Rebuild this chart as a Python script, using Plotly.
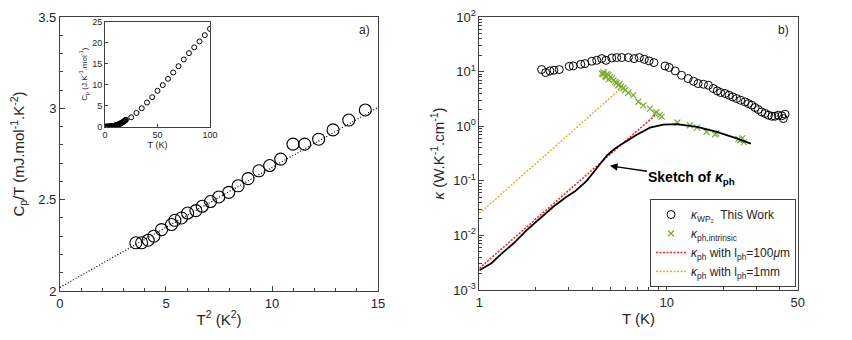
import plotly.graph_objects as go

''' datos panel a) '''
T2 = [3.58, 3.85, 4.16, 4.43, 4.79, 5.26, 5.42, 5.73, 6.02, 6.41, 6.71, 7.10, 7.49, 7.96,
      8.40, 8.87, 9.38, 9.89, 10.41, 10.99, 11.54, 12.20, 12.88, 13.62, 14.40]
CpT = [2.264, 2.264, 2.278, 2.300, 2.336, 2.364, 2.387, 2.400, 2.427, 2.440, 2.464, 2.490,
       2.515, 2.540, 2.576, 2.615, 2.658, 2.687, 2.722, 2.804, 2.804, 2.831, 2.882, 2.936, 2.991]
fit_x = [0, 15]
fit_y = [2.02, 3.005]

# inset Cp vs T
T_low = [0.5, 1, 1.5, 2, 2.5, 3, 3.5, 4, 4.5, 5, 5.5, 6, 6.5, 7, 7.5, 8, 8.5, 9, 9.5, 10,
         10.5, 11, 11.5, 12, 12.5, 13, 13.5, 14, 14.5, 15, 15.5, 16, 16.5, 17, 17.5, 18,
         18.5, 19, 19.5, 20]
Cp_low = [0.00, 0.00, 0.01, 0.01, 0.02, 0.02, 0.03, 0.04, 0.05, 0.06, 0.07, 0.09, 0.10, 0.12,
          0.14, 0.16, 0.19, 0.22, 0.25, 0.28, 0.32, 0.36, 0.40, 0.45, 0.50, 0.55, 0.60, 0.66,
          0.72, 0.79, 0.86, 0.93, 1.01, 1.09, 1.18, 1.27, 1.36, 1.46, 1.56, 1.66]
T_high = [25, 30, 35, 40, 45, 50, 55, 60, 65, 70, 75, 80, 85, 90, 95, 100]
Cp_high = [2.24, 3.27, 4.39, 5.75, 7.03, 8.55, 9.9, 11.4, 12.9, 14.4, 16.0, 17.5, 18.9,
           20.3, 21.8, 23.3]

''' datos panel b) '''
T_wp2 = [2.15, 2.26, 2.38, 2.50, 2.67, 3.02, 3.17, 3.48, 3.66, 3.98, 4.23, 4.50, 4.74, 5.09,
         5.41, 5.75, 6.24, 6.69, 7.14, 7.59, 8.05, 8.55, 9.80, 10.3, 11.1, 12.0, 13.0, 13.9,
         14.7, 15.7, 16.7, 17.7, 18.6, 19.4, 20.5, 21.5, 22.5, 23.6, 24.8, 26.2, 27.3, 28.4,
         29.6, 30.8, 32.1, 33.5, 34.9, 36.4, 37.8, 39.4, 41.1, 41.9, 42.8]
k_wp2 = [10.9, 9.6, 10.3, 10.6, 10.9, 12.5, 12.7, 13.6, 14.0, 15.5, 16.1, 17.3, 16.1, 17.8,
         18.1, 18.1, 18.1, 17.3, 18.1, 16.8, 15.7, 14.6, 12.7, 11.9, 10.3, 8.57, 7.46, 6.66,
         6.05, 5.87, 5.62, 4.90, 4.43, 4.14, 3.97, 3.70, 3.44, 3.21, 2.99, 2.79, 2.60, 2.43,
         2.20, 2.02, 1.83, 1.71, 1.59, 1.52, 1.52, 1.59, 1.55, 1.38, 1.66]

T_int = [4.50, 4.59, 4.6, 4.7, 4.74, 4.8, 4.88, 4.9, 5.0, 5.09, 5.2, 5.30, 5.4, 5.52, 5.6,
         5.7, 5.87, 6.0, 6.24, 6.63, 7.05, 7.50, 8.14, 8.66, 8.8, 9.2, 9.40, 11.4, 13.3, 14.5,
         16.3, 18.1, 18.4, 24.1, 24.6, 25.3, 25.8]
k_int = [9.2, 8.95, 9.8, 8.3, 7.9, 9.0, 8.6, 7.2, 8.0, 7.5, 6.9, 6.5, 6.2, 5.6, 5.9,
         5.3, 5.0, 4.6, 4.1, 3.7, 2.8, 2.4, 2.1, 1.7, 1.8, 1.6, 1.5, 1.17, 1.04, 0.94,
         0.79, 0.71, 0.74, 0.58, 0.55, 0.60, 0.51]

lph100_T = [1, 8.77]
lph100_k = [0.0025, 1.64]
lph1mm_T = [1, 5.87]
lph1mm_k = [0.0253, 5.4]

T_sk = [1.0, 1.16, 1.32, 1.52, 1.79, 2.11, 2.48, 2.87, 3.24, 3.74, 4.23, 4.79, 5.2, 5.63,
        6.92, 8.14, 9.59, 11.3, 14.5, 18.5, 23.6, 26.2, 28.1]
k_sk = [0.0023, 0.0031, 0.0047, 0.0071, 0.0125, 0.0205, 0.0335, 0.049, 0.064, 0.10, 0.17,
        0.29, 0.37, 0.45, 0.70, 0.94, 1.07, 1.09, 0.97, 0.79, 0.60, 0.52, 0.48]

''' figura '''
fnt = 'Liberation Sans, Arial, sans-serif'
eje = '#404040'

fig = go.Figure()

# panel a)
fig.add_trace(go.Scatter(x=fit_x, y=fit_y, mode='lines', xaxis='x', yaxis='y',
                         line=dict(color='black', width=1.2, dash='1px,2px'), showlegend=False))
fig.add_trace(go.Scatter(x=T2, y=CpT, mode='markers', xaxis='x', yaxis='y',
                         marker=dict(symbol='circle-open', size=12, color='black',
                                     line=dict(width=1.1)), showlegend=False))
# inset
fig.add_trace(go.Scatter(x=T_low + T_high, y=Cp_low + Cp_high, mode='markers',
                         xaxis='x3', yaxis='y3',
                         marker=dict(symbol='circle-open', size=5, color='black',
                                     line=dict(width=1)), showlegend=False))

# panel b)
fig.add_trace(go.Scatter(x=T_wp2, y=k_wp2, mode='markers', xaxis='x2', yaxis='y2',
                         name='<i>κ</i><sub>WP₂</sub>  This Work',
                         marker=dict(symbol='circle-open', size=8, color='black',
                                     line=dict(width=1))))
fig.add_trace(go.Scatter(x=T_int, y=k_int, mode='markers', xaxis='x2', yaxis='y2',
                         name='<i>κ</i><sub>ph,intrinsic</sub>',
                         marker=dict(symbol='x-thin-open', size=6, color='#77AC30',
                                     line=dict(width=1.2, color='#77AC30'))))
fig.add_trace(go.Scatter(x=lph100_T, y=lph100_k, mode='lines', xaxis='x2', yaxis='y2',
                         name='<i>κ</i><sub>ph</sub> with l<sub>ph</sub>=100<i>μ</i>m',
                         line=dict(color='#FF2020', width=1.6, dash='2px,1.5px')))
fig.add_trace(go.Scatter(x=lph1mm_T, y=lph1mm_k, mode='lines', xaxis='x2', yaxis='y2',
                         name='<i>κ</i><sub>ph</sub> with l<sub>ph</sub>=1mm',
                         line=dict(color='#EDA820', width=1.4, dash='2px,1.5px')))
fig.add_trace(go.Scatter(x=T_sk, y=k_sk, mode='lines', xaxis='x2', yaxis='y2',
                         line=dict(color='black', width=1.8),
                         showlegend=False))

ax_comun = dict(showline=True, linecolor=eje, linewidth=1, mirror=True, ticks='inside',
                ticklen=5, tickcolor=eje, showgrid=False, zeroline=False, automargin=False,
                tickfont=dict(size=13, color='#262626'))

# la pagina tiene 8px de margen en el body: dominios corridos para compensar
fig.update_layout(
    width=852, height=340,
    margin=dict(l=0, r=0, t=0, b=0),
    paper_bgcolor='white', plot_bgcolor='white',
    font=dict(family=fnt, color='#262626'),
    xaxis=dict(ax_comun, domain=[0.0610, 0.4343], range=[0, 15], tickvals=[0, 5, 10, 15],
               minor=dict(ticks='inside', ticklen=3, tickcolor=eje, dtick=1),
               title=dict(text='T<sup>2</sup> (K<sup>2</sup>)', font=dict(size=15), standoff=4),
               anchor='y'),
    yaxis=dict(ax_comun, domain=[0.1676, 0.9735], range=[2, 3.5], tickvals=[2, 2.5, 3, 3.5],
               ticktext=['2', '2.5', '3', '3.5'],
               minor=dict(ticks='inside', ticklen=3, tickcolor=eje, dtick=0.1),
               title=dict(text='C<sub>p</sub>/T (mJ.mol<sup>-1</sup>.K<sup>-2</sup>)',
                          font=dict(size=15), standoff=10),
               anchor='x'),
    xaxis3=dict(ax_comun, domain=[0.1138, 0.2371], range=[0, 100], tickvals=[0, 50, 100],
                ticklen=3, tickfont=dict(size=9, color='#262626'),
                title=dict(text='T (K)', font=dict(size=9), standoff=2), anchor='y3'),
    yaxis3=dict(ax_comun, domain=[0.6509, 0.9597], range=[0, 25],
                tickvals=[0, 5, 10, 15, 20, 25], ticklen=3,
                tickfont=dict(size=9, color='#262626'),
                title=dict(text='C<sub>p</sub> (J.K<sup>-1</sup>.mol<sup>-1</sup>)',
                           font=dict(size=8), standoff=3), anchor='x3'),
    xaxis2=dict(ax_comun, domain=[0.5532, 0.9269], type='log', range=[0, 1.69897],
                tickvals=[1, 10, 50], ticktext=['1', '10', '50'],
                minor=dict(ticks='inside', ticklen=3, tickcolor=eje,
                           tickvals=[2, 3, 4, 5, 6, 7, 8, 9, 20, 30, 40]),
                title=dict(text='T (K)', font=dict(size=15), standoff=4), anchor='y2'),
    yaxis2=dict(ax_comun, domain=[0.1706, 0.9735], type='log', range=[-3, 2],
                tickvals=[0.001, 0.01, 0.1, 1, 10, 100],
                ticktext=['10<sup>-3</sup>', '10<sup>-2</sup>', '10<sup>-1</sup>',
                          '10<sup>0</sup>', '10<sup>1</sup>', '10<sup>2</sup>'],
                minor=dict(ticks='inside', ticklen=3, tickcolor=eje,
                           tickvals=[m * 10 ** e for e in range(-3, 2) for m in range(2, 10)]),
                title=dict(text='<i>κ</i> (W.K<sup>-1</sup>.cm<sup>-1</sup>)',
                           font=dict(size=15), standoff=4), anchor='x2'),
    legend=dict(x=0.9249, y=0.1794, xanchor='right', yanchor='bottom',
                bgcolor='white', bordercolor=eje, borderwidth=1,
                font=dict(size=12, color='#262626'), tracegroupgap=0,
                itemwidth=30),
    annotations=[
        dict(text='a)', x=0.4272, y=0.962, xref='paper', yref='paper', showarrow=False,
             xanchor='right', yanchor='top', font=dict(size=12)),
        dict(text='b)', x=0.919, y=0.962, xref='paper', yref='paper', showarrow=False,
             xanchor='right', yanchor='top', font=dict(size=12)),
        dict(text='<b>Sketch of <i>κ</i><sub>ph</sub></b>', x=0.697, y=-0.726,
             xref='x2', yref='y2', ax=82, ay=12, showarrow=True, arrowhead=2,
             arrowsize=1, arrowwidth=1.5, arrowcolor='black',
             font=dict(size=14, color='black')),
    ],
)

fig.write_html('out.html')
